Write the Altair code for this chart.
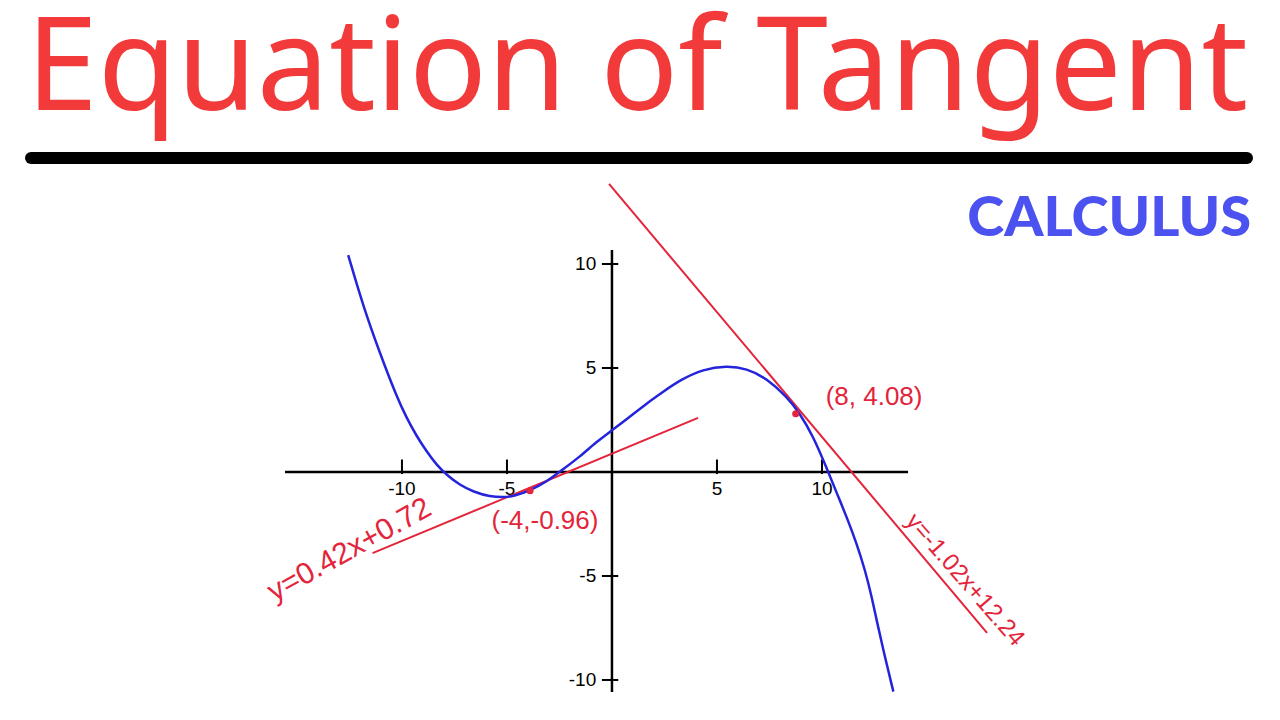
import altair as alt
import pandas as pd

# ---- data ----
curve_x = [-12.56, -11.84, -11.05, -10.25, -9.78, -9.3, -8.82, -8.35, -7.87, -7.24, -6.6,
           -5.81, -5.1, -4.7, -3.9, -3.11, -2.48, -1.52, -0.73, -0.01, 0.86, 1.65, 2.44,
           3.24, 4.35, 5.46, 6.41, 7.37, 8.32, 8.95, 9.59, 10.22, 10.7, 11.17, 11.65,
           12.05, 12.37, 12.6, 13.0, 13.4]
curve_y = [10.43, 7.95, 5.71, 3.62, 2.6, 1.72, 0.98, 0.34, -0.14, -0.63, -0.95,
           -1.19, -1.22, -1.17, -0.9, -0.47, 0.02, 0.74, 1.46, 1.99, 2.66, 3.3, 3.86,
           4.42, 4.95, 5.1, 4.98, 4.5, 3.62, 2.82, 1.7, 0.2, -1.0, -2.15, -3.43,
           -4.71, -6.0, -7.12, -8.9, -10.56]

tangent_id = ["t1", "t1", "t2", "t2"]
tangent_x = [-11.4, 4.1, -0.14, 17.86]
tangent_y = [-3.9, 2.6, 13.85, -7.74]

point_x = [-3.9, 8.75]
point_y = [-0.9, 2.8]

point_labels = ["(-4,-0.96)", "(8, 4.08)"]
point_label_x = [-3.19, 12.48]
point_label_y = [-2.36, 3.6]

eq1_text = ["y=0.42x+0.72"]
eq1_x = [-12.5]
eq1_y = [-3.75]
eq2_text = ["y=-1.02x+12.24"]
eq2_x = [16.8]
eq2_y = [-5.2]

x_ticks = [-10, -5, 5, 10]
x_tick_labels = ["-10", "-5", "5", "10"]
y_ticks = [10, 5, -5, -10]
y_tick_labels = ["10", "5", "-5", "-10"]

axis_x_range = [-15.57, 14.1]
axis_y_range = [-10.58, 10.67]

title_text = "Equation of Tangent"
badge_text = "CALCULUS"

# ---- scales (plot area covers the page) ----
W, H = 1264, 704
xs = alt.Scale(domain=[-28.76, 31.43], nice=False, zero=False)
ys = alt.Scale(domain=[-11.54, 22.31], nice=False, zero=False)

RED = "#e3243b"
BLUE = "#2424dc"

def X(f):
    return alt.X(f, scale=xs, axis=None)

def Y(f):
    return alt.Y(f, scale=ys, axis=None)

axes_df = pd.DataFrame({
    "x": [axis_x_range[0], 0], "x2": [axis_x_range[1], 0],
    "y": [0, axis_y_range[0]], "y2": [0, axis_y_range[1]],
})
axes = alt.Chart(axes_df).mark_rule(color="black", strokeWidth=2.5).encode(
    x=X("x:Q"), x2="x2:Q", y=Y("y:Q"), y2="y2:Q")

xt_df = pd.DataFrame({"x": x_ticks, "lab": x_tick_labels})
xticks = alt.Chart(xt_df).mark_rule(color="black", strokeWidth=2).encode(
    x=X("x:Q"), y=Y("lo:Q"), y2="hi:Q").transform_calculate(lo="-0.1", hi="0.6")
xlabels = alt.Chart(xt_df).mark_text(font="Liberation Sans", fontSize=19, color="black",
                                     baseline="middle", align="center").encode(
    x=X("x:Q"), y=Y("ly:Q"), text="lab:N").transform_calculate(ly="-0.8")

yt_df = pd.DataFrame({"y": y_ticks, "lab": y_tick_labels})
yticks = alt.Chart(yt_df).mark_rule(color="black", strokeWidth=2).encode(
    y=Y("y:Q"), x=X("lo:Q"), x2="hi:Q").transform_calculate(lo="-0.48", hi="0.3")
ylabels = alt.Chart(yt_df).mark_text(font="Liberation Sans", fontSize=19, color="black",
                                     baseline="middle", align="right").encode(
    y=Y("y:Q"), x=X("lx:Q"), text="lab:N").transform_calculate(lx="-0.75")

curve = alt.Chart(pd.DataFrame({"x": curve_x, "y": curve_y})).mark_line(
    color=BLUE, strokeWidth=2.5, interpolate="basis").encode(x=X("x:Q"), y=Y("y:Q"))

tangents = alt.Chart(pd.DataFrame({"id": tangent_id, "x": tangent_x, "y": tangent_y})).mark_line(
    color=RED, strokeWidth=2).encode(x=X("x:Q"), y=Y("y:Q"), detail="id:N")

points = alt.Chart(pd.DataFrame({"x": point_x, "y": point_y})).mark_circle(
    color=RED, size=50, opacity=1).encode(x=X("x:Q"), y=Y("y:Q"))

plabels = alt.Chart(pd.DataFrame({"x": point_label_x, "y": point_label_y, "t": point_labels})).mark_text(
    font="Liberation Sans", fontSize=26, color=RED, align="center", baseline="middle").encode(
    x=X("x:Q"), y=Y("y:Q"), text="t:N")

eq1 = alt.Chart(pd.DataFrame({"x": eq1_x, "y": eq1_y, "t": eq1_text})).mark_text(
    font="Liberation Sans", fontSize=30, color=RED, align="center", baseline="middle", angle=331).encode(
    x=X("x:Q"), y=Y("y:Q"), text="t:N")

eq2 = alt.Chart(pd.DataFrame({"x": eq2_x, "y": eq2_y, "t": eq2_text})).mark_text(
    font="Liberation Sans", fontSize=24, color=RED, align="center", baseline="middle", angle=49).encode(
    x=X("x:Q"), y=Y("y:Q"), text="t:N")

title = alt.Chart(pd.DataFrame({"t": [title_text]})).mark_text(
    font="Noto Sans", fontSize=129, color="#f23a3a", align="left", baseline="alphabetic").encode(
    x=alt.value(18), y=alt.value(102), text="t:N")

underline = alt.Chart(pd.DataFrame({"a": [0]})).mark_rule(
    color="black", strokeWidth=12, strokeCap="round").encode(
    x=alt.value(23), x2=alt.value(1239), y=alt.value(150))

badge = alt.Chart(pd.DataFrame({"t": [badge_text]})).mark_text(
    font="Lato", fontWeight=900, fontSize=56, color="#4b52f0", align="right", baseline="alphabetic").encode(
    x=alt.value(1243), y=alt.value(228), text="t:N")

chart = alt.layer(
    axes, xticks, yticks, xlabels, ylabels, tangents, curve, points,
    plabels, eq1, eq2, title, underline, badge
).properties(width=W, height=H, padding=0, autosize="none").configure_view(stroke=None)

chart.save("out.html", embed_options={"renderer": "svg", "actions": False})
